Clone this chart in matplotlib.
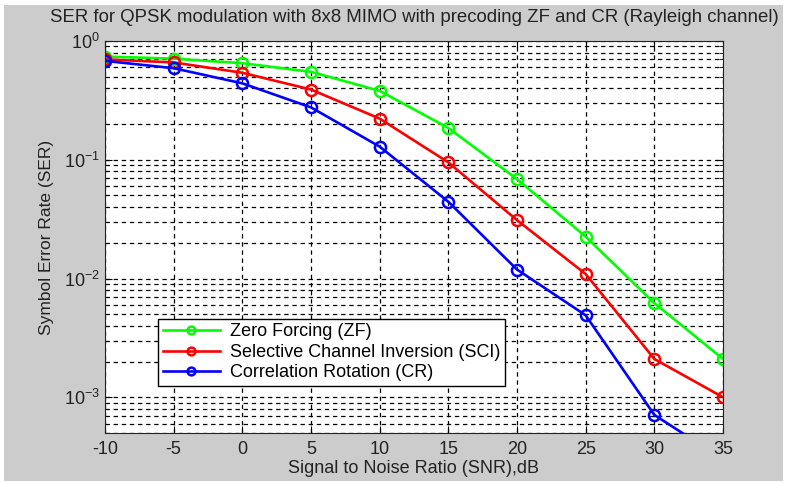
import numpy as np
import matplotlib
matplotlib.use("Agg")
import matplotlib.pyplot as plt
from matplotlib.patches import Rectangle
from matplotlib.ticker import LogLocator, FixedLocator

plt.rcParams['font.family'] = ['Liberation Sans', 'DejaVu Sans']
plt.rcParams['mathtext.fontset'] = 'custom'
plt.rcParams['mathtext.rm'] = 'Liberation Sans'
plt.rcParams['mathtext.it'] = 'Liberation Sans'
plt.rcParams['axes.unicode_minus'] = False

snr = [-10, -5, 0, 5, 10, 15, 20, 25, 30, 35]
ser_zf = [0.74, 0.71, 0.65, 0.55, 0.38, 0.185, 0.0687, 0.0225, 0.0062, 0.0021]
ser_sci = [0.70, 0.66, 0.54, 0.39, 0.222, 0.095, 0.031, 0.0109, 0.0021, 0.0010]
ser_cr = [0.68, 0.59, 0.44, 0.276, 0.129, 0.0443, 0.0119, 0.0049, 0.00071, 0.00030]

labels = ["Zero Forcing (ZF)", "Selective Channel Inversion (SCI)", "Correlation Rotation (CR)"]
colors = ["#00ff00", "#ff0000", "#0000ff"]

fig = plt.figure(figsize=(7.87, 4.83), dpi=100, facecolor="white")
bg = Rectangle((4/787, 2/483), 779/787, 476/483, transform=fig.transFigure,
               facecolor="#cccccc", edgecolor="none", zorder=-10)
fig.add_artist(bg)
ax = fig.add_axes([105/787, 1-433/483, 618/787, 392/483])

for ys, lab, c in zip([ser_zf, ser_sci, ser_cr], labels, colors):
    ax.semilogy(snr, ys, '-o', color=c, lw=1.9, ms=8, mfc='none', mew=1.8, label=lab)

ax.set_xlim(-10, 35)
ax.set_ylim(5e-4, 1)
ax.xaxis.set_major_locator(FixedLocator(np.arange(-10, 36, 5)))
ax.yaxis.set_major_locator(LogLocator(base=10, numticks=10))
ax.yaxis.set_minor_locator(LogLocator(base=10, subs=np.arange(2, 10), numticks=10))

ax.grid(True, which='major', axis='both', color='black', ls=(0, (3.5, 3)), lw=0.9)
ax.grid(True, which='minor', axis='y', color='black', ls=(0, (3.5, 3)), lw=0.9)
ax.tick_params(which='both', direction='in', top=True, right=True, labelsize=13,
               color='black', labelcolor='#222222')
ax.tick_params(axis='x', pad=6)
ax.tick_params(which='major', length=5)
ax.tick_params(which='minor', length=3)
for s in ax.spines.values():
    s.set_color('#222222')

ax.set_title("SER for QPSK modulation with 8x8 MIMO with precoding ZF and CR (Rayleigh channel)",
             fontsize=13.4, pad=14, color='#222222')
ax.set_xlabel("Signal to Noise Ratio (SNR),dB", fontsize=13, labelpad=1, color='#222222')
ax.set_ylabel("Symbol Error Rate (SER)", fontsize=12.5, labelpad=7, color='#222222')

leg = ax.legend(loc='lower left', bbox_to_anchor=((158-105)/618, (433-386)/392), fontsize=13,
                fancybox=False, framealpha=1, edgecolor='black', handlelength=3.2,
                handletextpad=0.55, borderpad=0.25, labelspacing=0.2, markerscale=0.7,
                borderaxespad=0)
leg.get_frame().set_linewidth(1)

fig.savefig("out.png", dpi=100, facecolor=fig.get_facecolor())
